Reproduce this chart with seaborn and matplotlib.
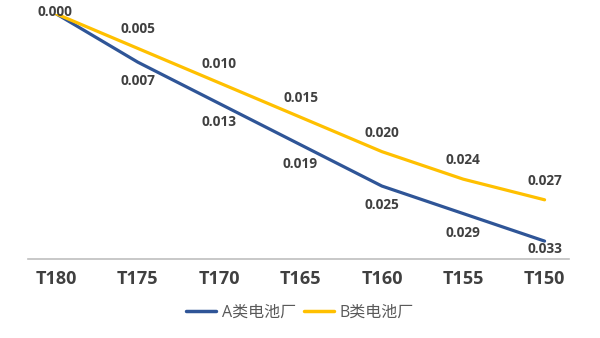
import matplotlib
matplotlib.use("Agg")
import matplotlib.pyplot as plt
import seaborn as sns
import pandas as pd

categories = ["T180", "T175", "T170", "T165", "T160", "T155", "T150"]
series_a = [0.000, 0.007, 0.013, 0.019, 0.025, 0.029, 0.033]
series_b = [0.000, 0.005, 0.010, 0.015, 0.020, 0.024, 0.027]
series_names = ["A类电池厂", "B类电池厂"]

colors = {"A类电池厂": "#2F5597", "B类电池厂": "#FFC000"}

sns.set_theme(style="white")
plt.rcParams["font.family"] = ["Open Sans", "Noto Sans CJK SC", "DejaVu Sans"]

df = pd.DataFrame({
    "cat": categories * 2,
    "x": list(range(len(categories))) * 2,
    "value": series_a + series_b,
    "series": [series_names[0]] * len(categories) + [series_names[1]] * len(categories),
})

fig = plt.figure(figsize=(6.0, 3.38), dpi=100)
ax = fig.add_axes([28 / 600, 1 - 259 / 338, 541 / 600, 245 / 338])

sns.lineplot(data=df, x="x", y="value", hue="series", palette=colors,
             hue_order=series_names, linewidth=2.3, ax=ax, legend=False)

ymax = 0.0356
ax.set_ylim(ymax, 0)
ax.set_xlim(-0.35, 6.3)

text_color = "#404040"
label_size = 9.8
off = 0.00276
for i, (a, b) in enumerate(zip(series_a, series_b)):
    if i == 0:
        ax.text(i - 0.02, -0.0003, f"{b:.3f}", ha="center", va="center",
                fontsize=label_size, fontweight="bold", color=text_color, clip_on=False)
        continue
    ax.text(i, b - off, f"{b:.3f}", ha="center", va="center",
            fontsize=label_size, fontweight="bold", color=text_color)
    ya = min(a + off, 0.0342)
    ax.text(i, ya, f"{a:.3f}", ha="center", va="center",
            fontsize=label_size, fontweight="bold", color=text_color)

ax.set_xticks(range(len(categories)))
ax.set_xticklabels(categories, fontsize=13, fontweight="bold", color=text_color)
ax.tick_params(axis="x", length=0, pad=8)
ax.set_yticks([])
ax.set_xlabel("")
ax.set_ylabel("")
for s in ["top", "left", "right"]:
    ax.spines[s].set_visible(False)
ax.spines["bottom"].set_color("#BFBFBF")
ax.spines["bottom"].set_linewidth(1.2)

handles = [plt.Line2D([], [], color=colors[n], linewidth=2.5) for n in series_names]
fig.legend(handles, series_names, loc="center", bbox_to_anchor=(0.5, 1 - 313 / 338),
           ncol=2, frameon=False, fontsize=11.5, handlelength=1.9,
           handletextpad=0.35, columnspacing=0.5, labelcolor="#595959")

fig.savefig("out.png", dpi=100)
